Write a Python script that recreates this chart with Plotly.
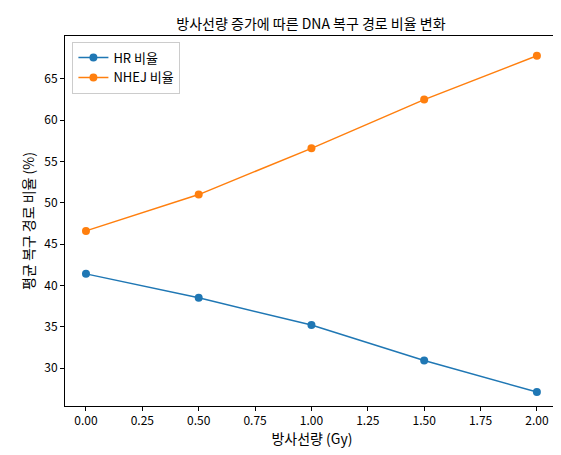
import plotly.graph_objects as go

dose = [0.0, 0.5, 1.0, 1.5, 2.0]
hr = [41.4, 38.5, 35.2, 30.9, 27.1]
nhej = [46.6, 51.0, 56.6, 62.5, 67.8]
xticks = [0, 0.25, 0.5, 0.75, 1.0, 1.25, 1.5, 1.75, 2.0]
xlabels = ["0.00", "0.25", "0.50", "0.75", "1.00", "1.25", "1.50", "1.75", "2.00"]

fig = go.Figure()
fig.add_trace(go.Scatter(x=dose, y=hr, mode="lines+markers", name="HR 비율",
                         line=dict(color="#1f77b4", width=1.5), marker=dict(size=8, color="#1f77b4")))
fig.add_trace(go.Scatter(x=dose, y=nhej, mode="lines+markers", name="NHEJ 비율",
                         line=dict(color="#ff7f0e", width=1.5), marker=dict(size=8, color="#ff7f0e")))

ax = dict(showgrid=False, zeroline=False, showline=True, linecolor="black", linewidth=1,
          mirror=True, ticks="outside", ticklen=4, tickcolor="black", automargin=False)
fig.update_layout(
    width=561, height=455, margin=dict(l=57, r=10, t=28, b=57, autoexpand=False),
    paper_bgcolor="white", plot_bgcolor="white",
    font=dict(family="Noto Sans CJK KR", size=12, color="black"),
    title=dict(text="방사선량 증가에 따른 DNA 복구 경로 비율 변화", x=0.54, xanchor="center",
               y=0.975, yanchor="top", font=dict(size=14), automargin=False),
    xaxis=dict(ax, range=[-0.093, 2.098], tickvals=xticks, ticktext=xlabels,
               title=dict(text="방사선량 (Gy)", standoff=6)),
    yaxis=dict(ax, range=[25.4, 70.2], tickvals=[30, 35, 40, 45, 50, 55, 60, 65],
               title=dict(text="평균 복구 경로 비율 (%)", standoff=6)),
    legend=dict(x=0.015, y=0.985, xanchor="left", yanchor="top", bordercolor="#cccccc",
                borderwidth=1, bgcolor="rgba(255,255,255,0.8)", font=dict(size=13)),
)
fig.write_html("out.html")
